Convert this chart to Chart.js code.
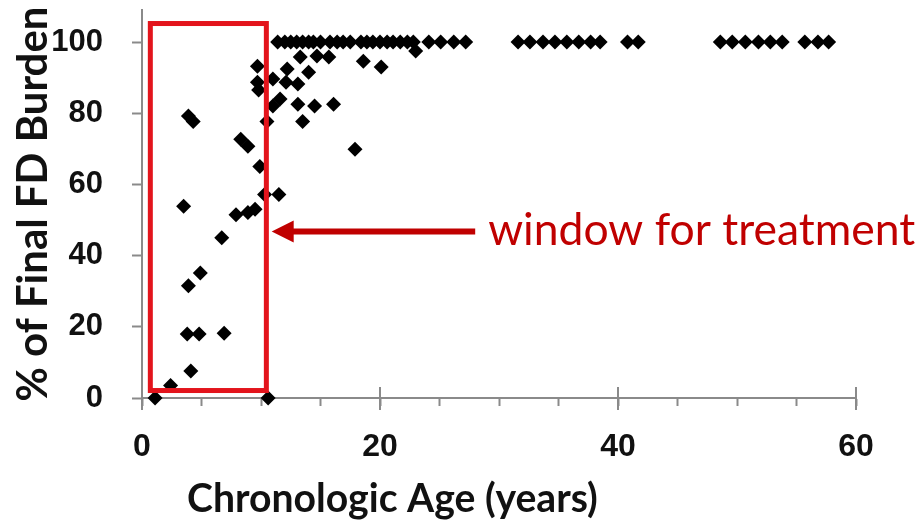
<!DOCTYPE html>
<html><head><meta charset="utf-8">
<script src="https://cdn.jsdelivr.net/npm/chart.js@4"></script>
<style>html,body{margin:0;padding:0;background:#fff;overflow:hidden;}</style>
</head><body>
<canvas id="c" width="923" height="523" style="width:923px;height:523px;display:block"></canvas>
<script>
// ---- data ----
const ageYears = [
  1.1, 2.4, 4.1, 3.8, 4.8, 6.9, 3.9, 4.9, 3.5, 6.7, 7.9, 8.9, 9.5, 9.9, 10.3, 11.5, 10.6,
  3.9, 4.3, 8.3, 8.9, 10.5, 9.7, 9.7, 9.8, 11.0, 11.0, 11.6, 12.1, 12.2, 13.1, 13.1, 13.5,
  14.0, 13.3, 14.7, 15.7, 14.5, 16.1, 17.9, 18.6, 20.1, 23.0,
  11.4, 12.0, 12.5, 13.0, 13.5, 14.0, 14.4, 15.0, 15.8, 16.4, 16.9, 17.5, 18.4, 18.9, 19.4,
  20.0, 20.6, 21.1, 21.7, 22.3, 22.8, 24.1, 25.1, 26.2, 27.2,
  31.6, 32.6, 33.7, 34.7, 35.7, 36.7, 37.7, 38.5, 40.8, 41.7,
  48.6, 49.6, 50.7, 51.8, 52.8, 53.8, 55.7, 56.8, 57.7
];
const finalBurdenPct = [
  0, 3.5, 7.6, 18, 18, 18.2, 31.5, 35.1, 53.9, 45, 51.5, 52.1, 53, 65, 57.2, 57.2, 0,
  79.2, 77.7, 72.7, 70.7, 77.7, 93.2, 88.7, 86.5, 89.6, 82, 84, 88.7, 92.4, 88.2, 82.5, 77.7,
  91.5, 95.8, 96.1, 95.8, 82, 82.5, 69.9, 94.6, 93, 97.5,
  100, 100, 100, 100, 100, 100, 100, 100, 100, 100, 100, 100, 100, 100, 100,
  100, 100, 100, 100, 100, 100, 100, 100, 100, 100,
  100, 100, 100, 100, 100, 100, 100, 100, 100, 100,
  100, 100, 100, 100, 100, 100, 100, 100, 100
];
const xTickLabels = [0, 20, 40, 60];
const yTickLabels = [0, 20, 40, 60, 80, 100];
const xAxisTitle = 'Chronologic Age (years)';
const yAxisTitle = '% of Final FD Burden';
const windowLabel = 'window for treatment';
// treatment window (data units)
const windowAge = [0.7, 10.45];
const windowPct = [2.1, 105.2];
const arrowAge = [28.0, 10.9];
const arrowPct = [46.8];

// ---- helpers ----
const mctx = document.createElement('canvas').getContext('2d');
function fitSize(text, weight, family, target) {
  mctx.font = weight + ' 100px ' + family;
  return 100 * target / mctx.measureText(text).width;
}
const titleFamily = 'Lato, "Open Sans", sans-serif';
const tickFamily = '"Liberation Sans Narrow", "Arial Narrow", "Liberation Sans", Arial, sans-serif';
const yTitleSize = fitSize(yAxisTitle, 'bold', titleFamily, 395);
const xTitleSize = fitSize(xAxisTitle, 'bold', titleFamily, 411);
const labelSize = fitSize(windowLabel, 'normal', titleFamily, 427);

const points = ageYears.map((a, i) => ({ x: a, y: finalBurdenPct[i] }));

const extras = {
  id: 'extras',
  afterDatasetsDraw(chart) {
    const { ctx, scales: { x, y } } = chart;
    ctx.save();
    // treatment window rectangle
    ctx.strokeStyle = '#e3141c';
    ctx.lineWidth = 5;
    const x0 = x.getPixelForValue(windowAge[0]), x1 = x.getPixelForValue(windowAge[1]);
    const y0 = y.getPixelForValue(windowPct[1]), y1 = y.getPixelForValue(windowPct[0]);
    ctx.strokeRect(x0, y0, x1 - x0, y1 - y0);
    // arrow
    const ax0 = x.getPixelForValue(arrowAge[0]), ax1 = x.getPixelForValue(arrowAge[1]);
    const ay = y.getPixelForValue(arrowPct[0]);
    ctx.strokeStyle = '#c00000';
    ctx.fillStyle = '#c00000';
    ctx.lineWidth = 6;
    ctx.beginPath();
    ctx.moveTo(ax0, ay);
    ctx.lineTo(ax1 + 18, ay);
    ctx.stroke();
    ctx.beginPath();
    ctx.moveTo(ax1, ay);
    ctx.lineTo(ax1 + 22, ay - 11);
    ctx.lineTo(ax1 + 22, ay + 11);
    ctx.closePath();
    ctx.fill();
    // label
    ctx.font = 'normal ' + labelSize.toFixed(2) + 'px ' + titleFamily;
    ctx.textAlign = 'left';
    ctx.textBaseline = 'alphabetic';
    ctx.fillText(windowLabel, ax0 + 13, ay + 14);
    ctx.restore();
  },
  afterDraw(chart) {
    const { ctx, scales: { x } } = chart;
    ctx.save();
    // major x tick marks cross the axis
    ctx.strokeStyle = '#8a8a8a';
    ctx.lineWidth = 2;
    xTickLabels.forEach(v => {
      const px = x.getPixelForValue(v);
      ctx.beginPath();
      ctx.moveTo(px, x.top - 11);
      ctx.lineTo(px, x.top + 12);
      ctx.stroke();
    });
    // x axis title
    ctx.fillStyle = '#111';
    ctx.font = 'bold ' + xTitleSize.toFixed(2) + 'px ' + titleFamily;
    ctx.textAlign = 'left';
    ctx.textBaseline = 'alphabetic';
    ctx.fillText(xAxisTitle, x.left + 45, 512);
    ctx.restore();
  }
};

new Chart(document.getElementById('c'), {
  type: 'scatter',
  data: {
    datasets: [{
      data: points,
      pointStyle: 'rectRot',
      pointRadius: 7.5,
      pointHoverRadius: 7.5,
      backgroundColor: '#000',
      borderColor: '#000',
      borderWidth: 0,
      clip: false
    }]
  },
  options: {
    responsive: false,
    animation: false,
    devicePixelRatio: 1,
    events: [],
    layout: { padding: { left: 0, top: 10, right: 67, bottom: 0 } },
    plugins: { legend: { display: false }, tooltip: { enabled: false } },
    scales: {
      x: {
        type: 'linear', min: 0, max: 60,
        afterFit(s) { s.height = 125; s.paddingLeft = 0; s.paddingRight = 0; },
        border: { display: true, color: '#8a8a8a', width: 2 },
        grid: { display: true, drawOnChartArea: false, drawTicks: true, tickLength: 8, tickColor: '#8a8a8a', tickWidth: 2 },
        ticks: {
          stepSize: 5, autoSkip: false, maxRotation: 0, padding: 22,
          color: '#111',
          font: { family: tickFamily, weight: 'bold', size: 32 },
          callback: v => xTickLabels.includes(v) ? String(v) : ''
        }
      },
      y: {
        type: 'linear', min: 0, max: 109,
        afterFit(s) { s.width = 142; s.paddingTop = 0; s.paddingBottom = 0; },
        afterBuildTicks(s) { s.ticks = yTickLabels.map(v => ({ value: v })); },
        border: { display: true, color: '#8a8a8a', width: 2 },
        grid: { display: true, drawOnChartArea: false, drawTicks: true, tickLength: 10, tickColor: '#8a8a8a', tickWidth: 2 },
        ticks: {
          padding: 29, color: '#111',
          font: { family: tickFamily, weight: 'bold', size: 31 },
          callback: v => String(v)
        },
        title: {
          display: true, text: yAxisTitle, color: '#111',
          font: { family: titleFamily, weight: 'bold', size: yTitleSize },
          padding: { top: 8, bottom: 0 }
        }
      }
    }
  },
  plugins: [extras]
});
</script>
</body></html>
